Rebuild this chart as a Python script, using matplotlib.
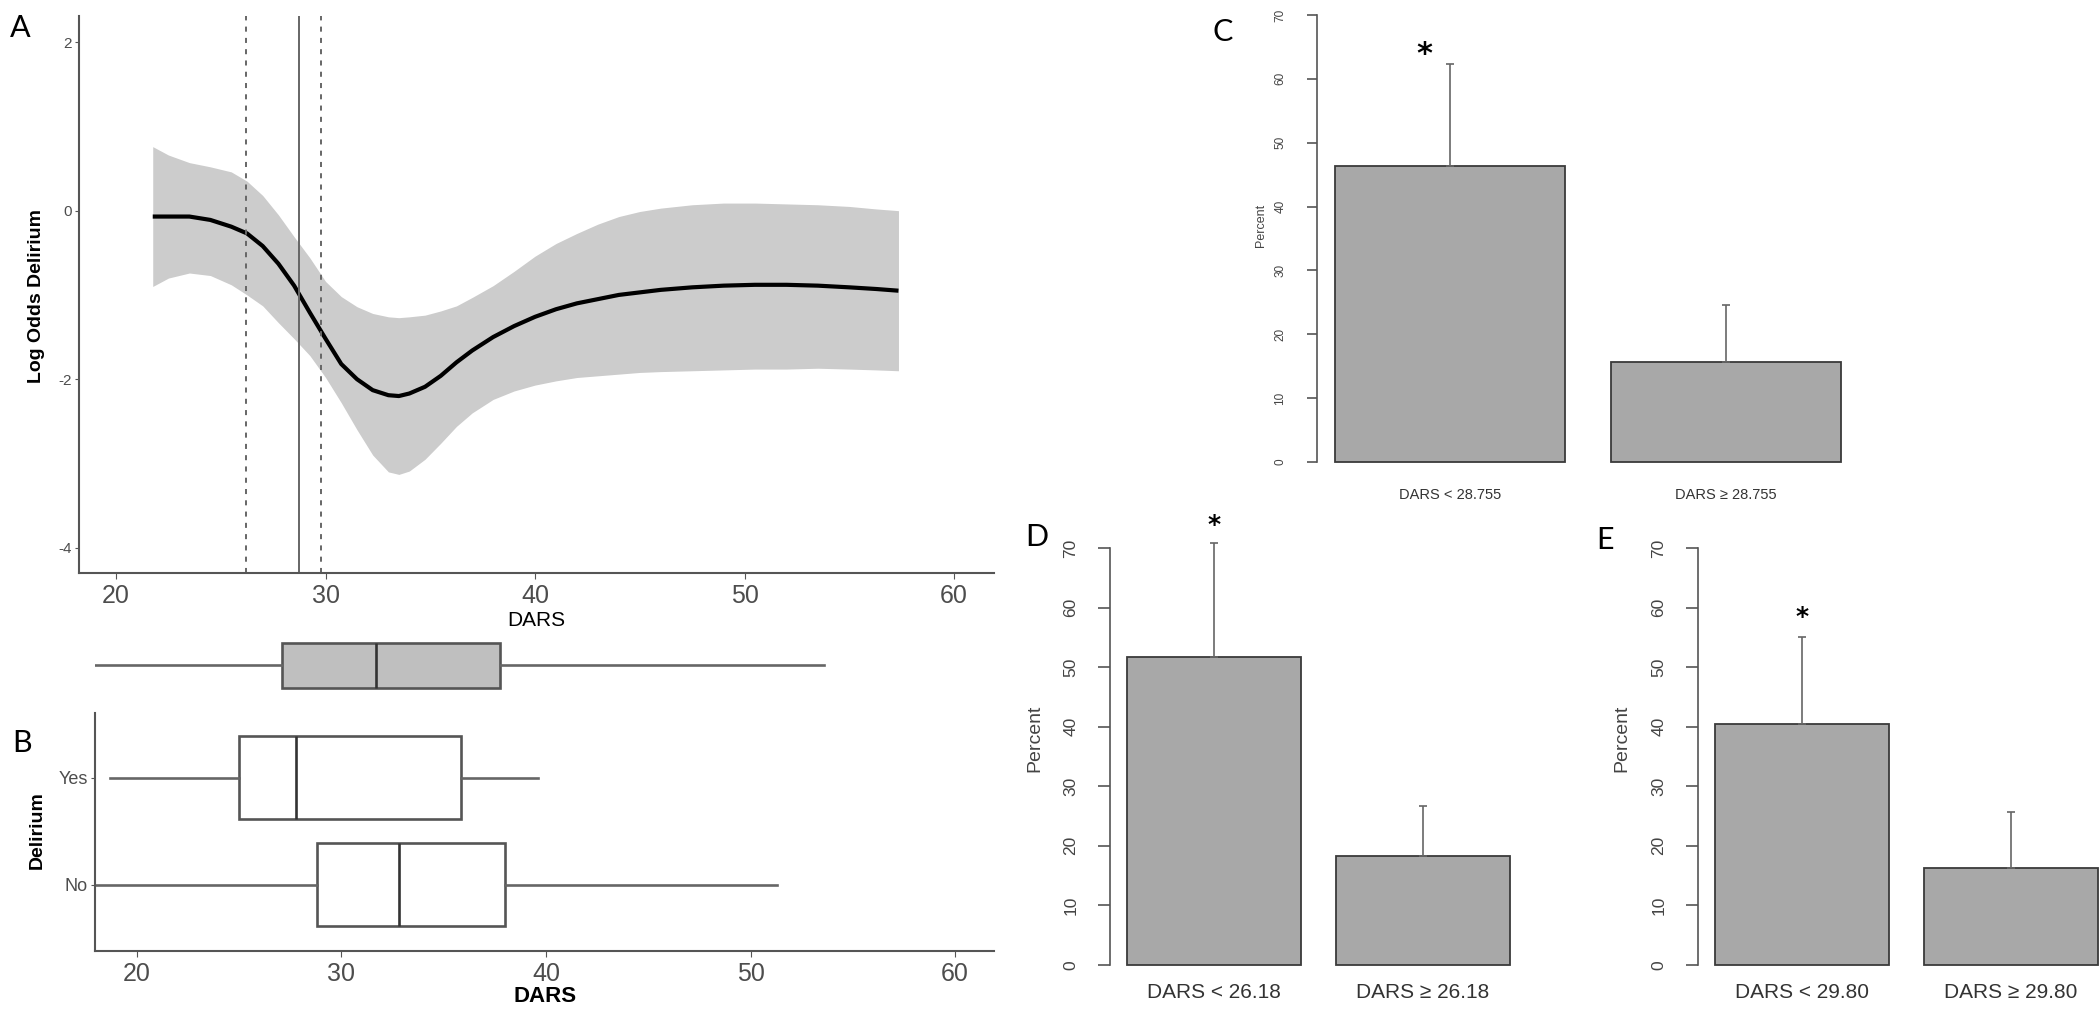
import numpy as np
import matplotlib
matplotlib.use('Agg')
import matplotlib.pyplot as plt

plt.rcParams['font.family'] = ['Liberation Sans', 'DejaVu Sans']

# panel A: spline fit of log odds of delirium against DARS, with 95% band
dars_grid = [21.75, 22.5, 23.5, 24.5, 25.5, 26.25, 27, 27.75, 28.5, 29.25, 30, 30.75, 31.5, 32.25,
             33, 33.5, 34, 34.75, 35.5, 36.25, 37, 38, 39, 40, 41, 42, 43, 44, 45, 46, 47.5, 49,
             50.5, 52, 53.5, 55, 56.3, 57.35]
log_odds = [-0.07, -0.07, -0.07, -0.11, -0.19, -0.27, -0.42, -0.63, -0.89, -1.21, -1.52, -1.82,
            -2.00, -2.13, -2.19, -2.20, -2.17, -2.09, -1.96, -1.80, -1.66, -1.50, -1.37, -1.26,
            -1.17, -1.10, -1.05, -1.00, -0.97, -0.94, -0.91, -0.89, -0.88, -0.88, -0.89, -0.91,
            -0.93, -0.95]
upper_ci = [0.76, 0.66, 0.57, 0.52, 0.46, 0.35, 0.18, -0.05, -0.31, -0.56, -0.84, -1.02, -1.14,
            -1.22, -1.26, -1.27, -1.26, -1.24, -1.19, -1.13, -1.03, -0.89, -0.72, -0.54, -0.39,
            -0.27, -0.16, -0.07, -0.01, 0.03, 0.07, 0.09, 0.09, 0.08, 0.07, 0.05, 0.02, 0.00]
lower_ci = [-0.90, -0.80, -0.74, -0.77, -0.88, -1.00, -1.13, -1.33, -1.52, -1.72, -1.98, -2.28,
            -2.60, -2.90, -3.10, -3.13, -3.09, -2.95, -2.76, -2.56, -2.40, -2.24, -2.14, -2.07,
            -2.02, -1.98, -1.96, -1.94, -1.92, -1.91, -1.90, -1.89, -1.88, -1.88, -1.87, -1.88,
            -1.89, -1.90]
cutoff = 28.755
cutoff_ci = [26.18, 29.80]

# panel B: DARS distribution, overall and by delirium status
overall_box = dict(whislo=17.9, q1=27.1, med=31.7, q3=37.75, whishi=53.6)
delirium_groups = ['No', 'Yes']
group_boxes = [dict(whislo=17.95, q1=28.8, med=32.8, q3=38.0, whishi=51.3),
               dict(whislo=18.7, q1=25.0, med=27.8, q3=35.85, whishi=39.6)]

# panels C-E: percent delirium below / above each cutoff
labels_c = ['DARS < 28.755', 'DARS \u2265 28.755']
pct_c = [46.3, 15.6]
upper_c = [62.3, 24.6]
labels_d = ['DARS < 26.18', 'DARS \u2265 26.18']
pct_d = [51.7, 18.3]
upper_d = [70.8, 26.7]
labels_e = ['DARS < 29.80', 'DARS \u2265 29.80']
pct_e = [40.5, 16.3]
upper_e = [55.0, 25.6]

W, H = 2100, 1017
fig = plt.figure(figsize=(W / 100, H / 100), dpi=100)
GRAY = '#555555'
TXT = '#4d4d4d'


def add_ax(l, t, r, b):
    return fig.add_axes([l / W, 1 - b / H, (r - l) / W, (b - t) / H])


def label_at(axis, x, y):
    axis.set_label_coords(x / W, 1 - y / H, transform=fig.transFigure)
    axis.label.set_va('center')
    axis.label.set_ha('center')


def gg_axes(ax):
    for s in ['top', 'right']:
        ax.spines[s].set_visible(False)
    for s in ['left', 'bottom']:
        ax.spines[s].set_color(GRAY)
        ax.spines[s].set_linewidth(1.5)


# ---- A
axA = add_ax(79, 16, 994, 573)
axA.fill_between(dars_grid, lower_ci, upper_ci, color='#cccccc', lw=0)
axA.plot(dars_grid, log_odds, color='black', lw=3.0, solid_capstyle='butt')
axA.axvline(cutoff, color='#666666', lw=1.4)
for v in cutoff_ci:
    axA.axvline(v, color='#666666', lw=1.4, ls=(0, (2.6, 3.2)))
axA.set_xlim(18.23, 61.91)
axA.set_ylim(-4.30, 2.31)
axA.set_xticks([20, 30, 40, 50, 60])
axA.set_yticks([-4, -2, 0, 2], ['-4', '-2', '0', '2'])
gg_axes(axA)
axA.tick_params(axis='x', labelsize=18, colors=GRAY, labelcolor=TXT, length=4, pad=4)
axA.tick_params(axis='y', labelsize=11, colors=GRAY, labelcolor=TXT, length=3, pad=2)
axA.set_xlabel('DARS', fontsize=15)
label_at(axA.xaxis, 536, 620)
axA.set_ylabel('Log Odds Delirium', fontsize=14, fontweight='bold')
label_at(axA.yaxis, 37, 296)

# ---- marginal box
B_XLIM = (17.95, 61.9)
axM = add_ax(95, 620, 994, 710)
axM.bxp([overall_box], positions=[0], widths=1.0, orientation='horizontal', showcaps=False,
        showfliers=False, patch_artist=True,
        boxprops=dict(facecolor='#bfbfbf', edgecolor=GRAY, lw=1.9),
        whiskerprops=dict(color='#666666', lw=1.9),
        medianprops=dict(color='#333333', lw=1.9))
axM.set_xlim(*B_XLIM)
axM.set_ylim(-1, 1)
axM.axis('off')

# ---- B
axB = add_ax(95, 713, 994, 951)
axB.bxp(group_boxes, positions=[1, 2], widths=0.776, orientation='horizontal', showcaps=False,
        showfliers=False, patch_artist=True,
        boxprops=dict(facecolor='white', edgecolor=GRAY, lw=1.9),
        whiskerprops=dict(color='#666666', lw=1.9),
        medianprops=dict(color='#333333', lw=1.9))
axB.set_xlim(*B_XLIM)
axB.set_ylim(0.383, 2.607)
axB.set_xticks([20, 30, 40, 50, 60])
axB.set_yticks([1, 2], delirium_groups)
gg_axes(axB)
axB.tick_params(axis='x', labelsize=18, colors=GRAY, labelcolor=TXT, length=4, pad=4)
axB.tick_params(axis='y', labelsize=13, colors=GRAY, labelcolor=TXT, length=3, pad=2)
axB.set_xlabel('DARS', fontsize=16, fontweight='bold')
label_at(axB.xaxis, 545, 997)
axB.set_ylabel('Delirium', fontsize=14, fontweight='bold')
label_at(axB.yaxis, 37, 830)


# ---- C, D, E
def bar_panel(ax, pct, upper, labels, xlim, tick_len, tick_size, tick_pad, lab_size, lab_pad,
              star_dx, star_gap, star_size):
    centers = [0.7, 1.9]
    ax.bar(centers, pct, width=1.0, color='#a8a8a8', edgecolor='#3a3a3a', lw=1.3, clip_on=False,
           zorder=2)
    err = [np.zeros(len(pct)), np.array(upper) - np.array(pct)]
    ax.errorbar(centers, pct, yerr=err, fmt='none', ecolor='#666666', elinewidth=1.2, capsize=3,
                capthick=1.2, zorder=3, clip_on=False)
    ax.text(centers[0] + star_dx, upper[0] + star_gap, '*', ha='center', va='center',
            fontsize=star_size, fontweight='bold', family='DejaVu Sans')
    ax.set_xlim(*xlim)
    ax.set_ylim(0, 70)
    ax.set_yticks(range(0, 71, 10))
    for lbl in ax.get_yticklabels():
        lbl.set_rotation(90)
        lbl.set_va('center')
    ax.set_xticks(centers, labels)
    for s in ['top', 'right', 'bottom']:
        ax.spines[s].set_visible(False)
    ax.spines['left'].set_color(GRAY)
    ax.spines['left'].set_linewidth(1.2)
    ax.tick_params(axis='y', length=tick_len, width=1.2, colors=GRAY, labelcolor='#444444',
                   labelsize=tick_size, pad=tick_pad)
    ax.tick_params(axis='x', length=0, labelsize=lab_size, labelcolor='#333333', pad=lab_pad)


axC = add_ax(1317, 15, 1900, 462)
bar_panel(axC, pct_c, upper_c, labels_c, (0.1217, 2.657), 7, 8.5, 15, 10.5, 19, -0.11, 1.5, 22)
axC.set_ylabel('Percent', fontsize=9, color='#444444')
label_at(axC.yaxis, 1261, 225)

axD = add_ax(1110, 548, 1540, 965)
bar_panel(axD, pct_d, upper_d, labels_d, (0.103, 2.575), 8.6, 12.5, 14, 15, 13, 0, 3.0, 18)
axD.set_ylabel('Percent', fontsize=14, color='#444444')
label_at(axD.yaxis, 1035, 738)

axE = add_ax(1698, 548, 2100, 965)
bar_panel(axE, pct_e, upper_e, labels_e, (0.103, 2.414), 8.6, 12.5, 14, 15, 13, 0, 3.4, 18)
axE.set_ylabel('Percent', fontsize=14, color='#444444')
label_at(axE.yaxis, 1622, 738)

# panel letters
for letter, x, y in [('A', 20, 28), ('B', 22, 743), ('C', 1223, 32), ('D', 1037, 537), ('E', 1605, 540)]:
    fig.text(x / W, 1 - y / H, letter, fontsize=22, family='Lato', ha='center', va='center')

fig.savefig('out.png', dpi=100)
